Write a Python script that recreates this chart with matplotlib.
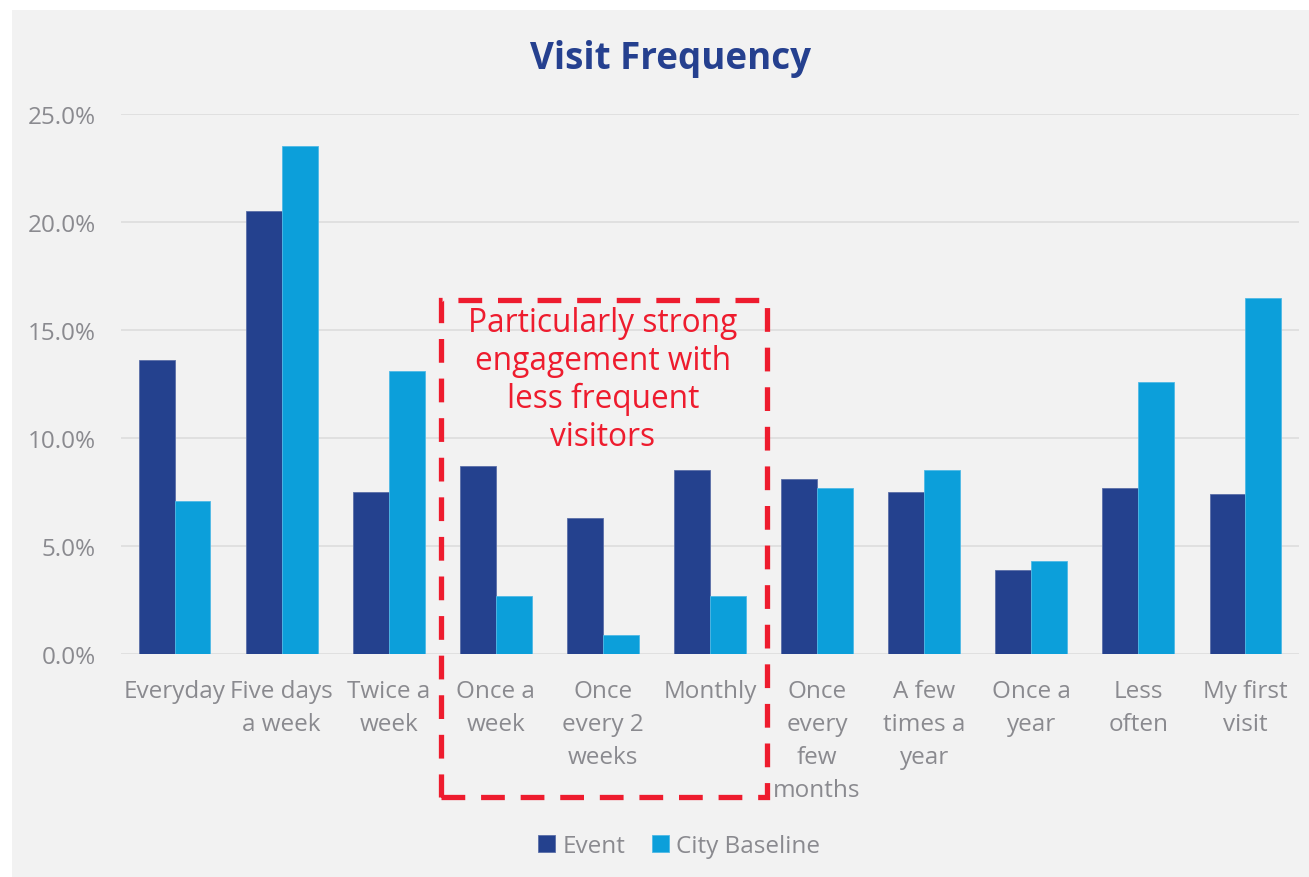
import numpy as np
import matplotlib.pyplot as plt
from matplotlib.patches import Rectangle

plt.rcParams["font.family"] = ["Open Sans", "DejaVu Sans"]

categories = [
    "Everyday", "Five days\na week", "Twice a\nweek", "Once a\nweek",
    "Once\nevery 2\nweeks", "Monthly", "Once\nevery\nfew\nmonths",
    "A few\ntimes a\nyear", "Once a\nyear", "Less\noften", "My first\nvisit",
]
event = [13.6, 20.5, 7.5, 8.7, 6.3, 8.5, 8.1, 7.5, 3.9, 7.7, 7.4]
city_baseline = [7.1, 23.5, 13.1, 2.7, 0.9, 2.7, 7.7, 8.5, 4.3, 12.6, 16.5]
yticks = [0, 5, 10, 15, 20, 25]

EVENT_COLOR = "#24418e"
CITY_COLOR = "#0c9fda"
TEXT_GREY = "#8a8a8f"
RED = "#ee1c2e"
PANEL = "#f2f2f2"

fig = plt.figure(figsize=(13.09, 8.78), dpi=100)
fig.patch.set_facecolor("white")
fig.patches.append(Rectangle((12 / 1309, 0), 1, 1 - 11 / 878, transform=fig.transFigure,
                             facecolor=PANEL, edgecolor="none", zorder=-10))

ax = fig.add_axes([121 / 1309, 1 - 655 / 878, 1178 / 1309, 540 / 878])
ax.set_facecolor(PANEL)
ax.patch.set_alpha(0)

x = np.arange(len(categories))
w = 0.335
ax.bar(x - w / 2, event, width=w, color=EVENT_COLOR, edgecolor="#5b6fa8",
       linewidth=0.6, label="Event", zorder=3)
ax.bar(x + w / 2, city_baseline, width=w, color=CITY_COLOR, edgecolor="#4fb9e6",
       linewidth=0.6, label="City Baseline", zorder=3)

ax.set_xlim(-0.5, len(categories) - 0.5)
ax.set_ylim(0, 25)
ax.set_yticks(yticks)
ax.set_yticklabels([f"{v:.1f}%" for v in yticks])
ax.set_xticks(x)
ax.set_xticklabels(categories, linespacing=1.5)
ax.tick_params(axis="both", length=0, labelsize=17.5, labelcolor=TEXT_GREY)
ax.tick_params(axis="x", pad=18)
ax.tick_params(axis="y", pad=18)
ax.grid(axis="y", color="#e0e0e0", linewidth=1.4, zorder=0)
for s in ax.spines.values():
    s.set_visible(False)

fig.text(0.512, 1 - 59 / 878, "Visit Frequency", ha="center", va="center",
         fontsize=26.5, fontweight="bold", color="#25408f")

# highlight box around the less frequent visitor groups
box = Rectangle((2.49, -6.6), 3.04, 23.0, fill=False, edgecolor=RED, linewidth=3.8,
                linestyle=(0, (4.5, 3.0)), clip_on=False, zorder=5)
ax.add_patch(box)
ax.text(4.0, 12.7, "Particularly strong\nengagement with\nless frequent\nvisitors",
        ha="center", va="center", fontsize=22.8, color=RED, linespacing=1.2, zorder=6)

leg = fig.legend(loc="center", bbox_to_anchor=(0.519, 1 - 847 / 878), ncol=2,
                 frameon=False, fontsize=17.5, handlelength=0.7, handleheight=0.7,
                 handletextpad=0.3, columnspacing=1.1)
for t in leg.get_texts():
    t.set_color(TEXT_GREY)

fig.savefig("out.png", dpi=100, facecolor=fig.get_facecolor())
